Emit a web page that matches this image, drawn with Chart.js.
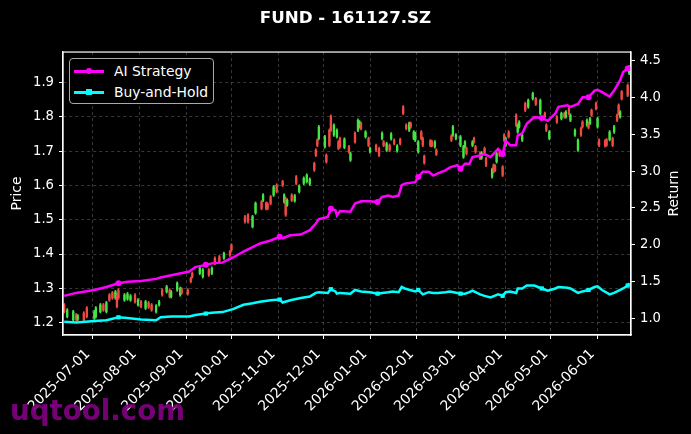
<!DOCTYPE html>
<html>
<head>
<meta charset="utf-8">
<script src="https://cdn.jsdelivr.net/npm/chart.js@4.4.7/dist/chart.umd.js"></script>
<style>
  html, body { margin: 0; padding: 0; background: #000; }
  #wrap { position: relative; width: 691px; height: 434px; }
  #legend {
    position: absolute; left: 69px; top: 58px; width: 145px; height: 46px;
    box-sizing: border-box; border: 1px solid #aaa; border-radius: 4px;
    background: #000; color: #fff; font: 13.9px "DejaVu Sans", sans-serif;
  }
  #legend .row { position: absolute; left: 0; width: 100%; height: 20px; line-height: 20px; }
  #legend .row span.txt { position: absolute; left: 44px; top: 0; white-space: nowrap; }
  #legend .sw { position: absolute; left: 4px; top: 9px; width: 30px; height: 2.5px; }
  #legend .sw i { position: absolute; left: 12px; top: -2px; width: 6px; height: 6px; }
  #watermark {
    position: absolute; left: 10px; top: 394px; line-height: 1;
    font: bold 27.7px "DejaVu Sans", sans-serif; color: rgba(128, 0, 128, 0.92);
  }
</style>
</head>
<body>
<div id="wrap">
  <canvas id="chart" width="691" height="434"></canvas>
  <div id="legend">
    <div class="row" style="top:2px"><span class="sw" style="background:#ff00ff"><i style="background:#ff00ff;border-radius:50%"></i></span><span class="txt">AI Strategy</span></div>
    <div class="row" style="top:23px"><span class="sw" style="background:#00ffff"><i style="background:#00ffff"></i></span><span class="txt">Buy-and-Hold</span></div>
  </div>
  <div id="watermark">uqtool.com</div>
</div>
<script>
// K线数据
const candleDates = [
  '2025-06-12','2025-06-14','2025-06-18','2025-06-20','2025-06-21','2025-06-25','2025-06-27',
  '2025-07-02','2025-07-03','2025-07-06','2025-07-08','2025-07-10','2025-07-12','2025-07-14','2025-07-16','2025-07-17','2025-07-18','2025-07-22','2025-07-24','2025-07-26','2025-07-29','2025-07-31',
  '2025-08-02','2025-08-05','2025-08-07','2025-08-09','2025-08-12','2025-08-14','2025-08-16','2025-08-19','2025-08-21','2025-08-22','2025-08-26','2025-08-28','2025-08-29',
  '2025-09-02','2025-09-04','2025-09-05','2025-09-10','2025-09-12','2025-09-16','2025-09-18','2025-09-20','2025-09-23','2025-09-26','2025-09-30',
  '2025-10-01','2025-10-10','2025-10-12','2025-10-15','2025-10-17','2025-10-21','2025-10-22','2025-10-24','2025-10-25','2025-10-27','2025-10-29','2025-10-31',
  '2025-11-04','2025-11-05','2025-11-06','2025-11-07','2025-11-10','2025-11-12','2025-11-13','2025-11-15','2025-11-18','2025-11-20','2025-11-22','2025-11-25','2025-11-26','2025-11-27','2025-11-28',
  '2025-12-02','2025-12-03','2025-12-05','2025-12-06','2025-12-08','2025-12-10','2025-12-11','2025-12-12','2025-12-15','2025-12-18','2025-12-19','2025-12-22','2025-12-24','2025-12-25','2025-12-26','2025-12-29','2025-12-31',
  '2026-01-01','2026-01-05','2026-01-07','2026-01-09','2026-01-10','2026-01-12','2026-01-14','2026-01-15','2026-01-17','2026-01-19','2026-01-21','2026-01-23','2026-01-25','2026-01-27','2026-01-28','2026-01-30','2026-01-31',
  '2026-02-02','2026-02-04','2026-02-05','2026-02-06','2026-02-10','2026-02-11','2026-02-13','2026-02-14','2026-02-24','2026-02-25','2026-02-27',
  '2026-03-02','2026-03-04','2026-03-05','2026-03-06','2026-03-10','2026-03-11','2026-03-12','2026-03-15','2026-03-16','2026-03-18','2026-03-19','2026-03-23','2026-03-24','2026-03-25','2026-03-26','2026-03-28','2026-03-30','2026-03-31',
  '2026-04-01','2026-04-03','2026-04-08','2026-04-09','2026-04-10','2026-04-12','2026-04-14','2026-04-16','2026-04-19','2026-04-21','2026-04-24','2026-04-27','2026-04-28','2026-04-30',
  '2026-05-05','2026-05-08','2026-05-10','2026-05-11','2026-05-13','2026-05-14','2026-05-17','2026-05-19','2026-05-21','2026-05-22','2026-05-25','2026-05-26','2026-05-27','2026-05-28','2026-05-31',
  '2026-06-01','2026-06-02','2026-06-06','2026-06-07','2026-06-09','2026-06-11','2026-06-12','2026-06-14','2026-06-15','2026-06-16','2026-06-17','2026-06-21','2026-06-22'
];
const opens = [
  1.252,1.218,1.208,1.223,1.210,1.228,1.243,1.213,1.218,1.232,
  1.252,1.232,1.281,1.287,1.272,1.281,1.295,1.266,1.269,1.266,
  1.281,1.252,1.261,1.242,1.258,1.252,1.232,1.252,1.295,1.290,
  1.295,1.276,1.295,1.281,1.298,1.295,1.329,1.344,1.344,1.334,
  1.354,1.344,1.388,1.392,1.388,1.407,1.426,1.509,1.514,1.480,
  1.520,1.552,1.557,1.548,1.546,1.567,1.572,1.601,1.611,1.552,
  1.562,1.543,1.572,1.555,1.625,1.582,1.606,1.611,1.604,1.664,
  1.703,1.732,1.737,1.713,1.688,1.761,1.802,1.747,1.742,1.727,
  1.737,1.711,1.713,1.674,1.752,1.761,1.771,1.781,1.742,1.737,
  1.698,1.717,1.708,1.737,1.727,1.703,1.717,1.736,1.732,1.701,
  1.734,1.829,1.776,1.761,1.781,1.737,1.732,1.698,1.756,1.737,
  1.685,1.730,1.728,1.713,1.703,1.744,1.747,1.737,1.717,1.683,
  1.713,1.708,1.717,1.737,1.713,1.693,1.680,1.708,1.679,1.625,
  1.659,1.657,1.669,1.698,1.654,1.747,1.717,1.756,1.805,1.756,
  1.771,1.732,1.839,1.829,1.853,1.853,1.810,1.810,1.776,1.737,
  1.800,1.795,1.810,1.800,1.824,1.790,1.747,1.703,1.766,1.785,
  1.776,1.781,1.781,1.819,1.839,1.771,1.732,1.730,1.733,1.734,
  1.737,1.756,1.805,1.834,1.800,1.873,1.892,1.927
];
const highs = [
  1.256,1.241,1.236,1.227,1.224,1.232,1.247,1.236,1.247,1.256,
  1.256,1.262,1.285,1.291,1.294,1.285,1.299,1.285,1.288,1.282,
  1.285,1.270,1.265,1.265,1.262,1.256,1.253,1.265,1.299,1.309,
  1.299,1.294,1.319,1.304,1.302,1.299,1.333,1.348,1.363,1.358,
  1.358,1.363,1.392,1.396,1.406,1.411,1.430,1.513,1.518,1.513,
  1.552,1.556,1.576,1.552,1.550,1.571,1.600,1.605,1.615,1.576,
  1.566,1.561,1.576,1.574,1.629,1.602,1.625,1.634,1.622,1.668,
  1.707,1.736,1.775,1.746,1.692,1.765,1.806,1.780,1.765,1.731,
  1.741,1.739,1.717,1.697,1.756,1.794,1.789,1.785,1.760,1.741,
  1.712,1.721,1.712,1.756,1.731,1.726,1.721,1.754,1.736,1.719,
  1.738,1.833,1.780,1.785,1.785,1.760,1.756,1.731,1.760,1.741,
  1.689,1.734,1.732,1.731,1.707,1.748,1.775,1.751,1.746,1.717,
  1.731,1.712,1.731,1.741,1.717,1.697,1.699,1.712,1.683,1.651,
  1.663,1.661,1.697,1.702,1.658,1.751,1.741,1.760,1.809,1.780,
  1.789,1.751,1.843,1.852,1.872,1.857,1.852,1.814,1.780,1.760,
  1.804,1.814,1.814,1.818,1.828,1.809,1.765,1.736,1.770,1.789,
  1.794,1.785,1.799,1.823,1.843,1.799,1.736,1.734,1.737,1.760,
  1.741,1.775,1.809,1.838,1.818,1.877,1.896,1.949
];
const lows = [
  1.228,1.214,1.204,1.204,1.206,1.204,1.214,1.209,1.214,1.228,
  1.233,1.228,1.262,1.268,1.268,1.243,1.268,1.262,1.265,1.262,
  1.257,1.248,1.243,1.238,1.241,1.233,1.228,1.248,1.277,1.286,
  1.272,1.272,1.291,1.277,1.283,1.280,1.316,1.330,1.340,1.330,
  1.335,1.340,1.369,1.374,1.384,1.393,1.408,1.490,1.490,1.476,
  1.516,1.529,1.553,1.529,1.529,1.544,1.568,1.578,1.597,1.548,
  1.510,1.539,1.553,1.551,1.602,1.578,1.602,1.607,1.600,1.641,
  1.684,1.713,1.733,1.709,1.665,1.713,1.757,1.743,1.738,1.704,
  1.709,1.707,1.694,1.670,1.723,1.757,1.767,1.762,1.738,1.713,
  1.694,1.699,1.684,1.733,1.713,1.699,1.699,1.732,1.718,1.697,
  1.718,1.806,1.762,1.757,1.767,1.733,1.728,1.694,1.733,1.713,
  1.662,1.713,1.712,1.709,1.687,1.728,1.743,1.733,1.713,1.679,
  1.709,1.689,1.713,1.723,1.694,1.675,1.676,1.689,1.655,1.621,
  1.636,1.640,1.665,1.684,1.626,1.728,1.713,1.738,1.772,1.752,
  1.767,1.728,1.815,1.825,1.849,1.833,1.806,1.796,1.757,1.733,
  1.781,1.791,1.796,1.796,1.806,1.786,1.743,1.699,1.743,1.767,
  1.772,1.765,1.777,1.801,1.820,1.767,1.713,1.712,1.714,1.730,
  1.713,1.752,1.786,1.806,1.796,1.849,1.859,1.923
];
const closes = [
  1.232,1.237,1.232,1.208,1.220,1.208,1.218,1.232,1.243,1.252,
  1.237,1.258,1.266,1.272,1.290,1.247,1.272,1.281,1.284,1.278,
  1.261,1.266,1.247,1.261,1.245,1.237,1.249,1.261,1.281,1.305,
  1.276,1.290,1.315,1.300,1.287,1.284,1.320,1.334,1.359,1.354,
  1.339,1.359,1.373,1.378,1.402,1.397,1.412,1.494,1.494,1.509,
  1.548,1.533,1.572,1.533,1.533,1.548,1.596,1.582,1.601,1.572,
  1.514,1.557,1.557,1.570,1.606,1.598,1.621,1.630,1.618,1.645,
  1.688,1.717,1.771,1.742,1.669,1.717,1.761,1.776,1.761,1.708,
  1.713,1.735,1.698,1.693,1.727,1.790,1.785,1.766,1.756,1.717,
  1.708,1.703,1.688,1.752,1.717,1.722,1.703,1.750,1.722,1.715,
  1.722,1.810,1.766,1.781,1.771,1.756,1.752,1.727,1.737,1.717,
  1.666,1.717,1.716,1.727,1.691,1.732,1.771,1.747,1.742,1.713,
  1.727,1.693,1.727,1.727,1.698,1.679,1.695,1.693,1.659,1.647,
  1.640,1.644,1.693,1.688,1.630,1.732,1.737,1.742,1.776,1.776,
  1.785,1.747,1.819,1.848,1.868,1.837,1.848,1.800,1.761,1.756,
  1.785,1.810,1.800,1.814,1.810,1.805,1.761,1.732,1.747,1.771,
  1.790,1.769,1.795,1.805,1.824,1.795,1.717,1.716,1.718,1.756,
  1.717,1.771,1.790,1.810,1.814,1.853,1.863,1.945
];

// 收益曲线
const lineDates = [
  '2025-06-12','2025-06-20','2025-07-02','2025-07-10','2025-07-18','2025-07-24','2025-08-02','2025-08-12','2025-08-15','2025-08-22',
  '2025-09-03','2025-09-07','2025-09-14','2025-09-18','2025-09-25','2025-10-02','2025-10-09','2025-10-15','2025-10-20','2025-10-27',
  '2025-11-02','2025-11-04','2025-11-09','2025-11-16','2025-11-22','2025-11-26','2025-11-28','2025-12-04','2025-12-06','2025-12-09',
  '2025-12-10','2025-12-12','2025-12-19','2025-12-22','2025-12-26','2026-01-01','2026-01-06','2026-01-09','2026-01-13','2026-01-16',
  '2026-01-20','2026-01-22','2026-01-24','2026-01-31','2026-02-02','2026-02-05','2026-02-09','2026-02-12','2026-02-15','2026-02-20',
  '2026-02-23','2026-02-28','2026-03-02','2026-03-05','2026-03-08','2026-03-10','2026-03-15','2026-03-18','2026-03-22','2026-03-27',
  '2026-03-30','2026-04-01','2026-04-04','2026-04-08','2026-04-09','2026-04-12','2026-04-15','2026-04-20','2026-04-25','2026-04-29',
  '2026-05-04','2026-05-06','2026-05-12','2026-05-14','2026-05-19','2026-05-22','2026-05-26','2026-05-30','2026-06-01','2026-06-04',
  '2026-06-09','2026-06-12','2026-06-16','2026-06-18','2026-06-21','2026-06-22'
];
const aiStrategy = [
  1.31,1.35,1.39,1.43,1.48,1.50,1.51,1.54,1.56,1.59,
  1.64,1.70,1.73,1.75,1.76,1.83,1.91,1.97,2.02,2.06,
  2.11,2.09,2.13,2.14,2.20,2.29,2.35,2.38,2.49,2.47,
  2.40,2.46,2.45,2.56,2.59,2.59,2.58,2.65,2.67,2.65,
  2.67,2.81,2.83,2.85,2.92,2.99,2.99,2.94,2.97,3.01,
  3.05,3.08,3.03,3.10,3.10,3.19,3.21,3.23,3.19,3.30,
  3.23,3.41,3.35,3.35,3.48,3.51,3.64,3.73,3.72,3.68,
  3.78,3.87,3.89,3.87,3.91,4.00,4.00,4.09,4.10,4.07,
  4.01,4.09,4.23,4.34,4.39,4.43
];
const buyHold = [
  0.96,0.95,0.97,0.98,1.02,1.01,0.99,0.98,1.02,1.03,
  1.03,1.05,1.07,1.08,1.09,1.13,1.19,1.21,1.23,1.25,
  1.26,1.22,1.25,1.28,1.30,1.35,1.36,1.35,1.40,1.37,
  1.34,1.35,1.34,1.39,1.37,1.36,1.34,1.35,1.36,1.37,
  1.36,1.43,1.41,1.37,1.39,1.33,1.36,1.35,1.35,1.36,
  1.37,1.35,1.34,1.34,1.36,1.38,1.33,1.31,1.29,1.33,
  1.31,1.36,1.37,1.35,1.41,1.41,1.45,1.45,1.41,1.38,
  1.41,1.43,1.42,1.41,1.35,1.37,1.39,1.43,1.44,1.39,
  1.33,1.35,1.39,1.41,1.45,1.48
];

// 刻度
const priceTicks = [1.2, 1.3, 1.4, 1.5, 1.6, 1.7, 1.8, 1.9];
const returnTicks = [1.0, 1.5, 2.0, 2.5, 3.0, 3.5, 4.0, 4.5];
const monthTicks = [
  '2025-07-01','2025-08-01','2025-09-01','2025-10-01','2025-11-01','2025-12-01',
  '2026-01-01','2026-02-01','2026-03-01','2026-04-01','2026-05-01','2026-06-01'
];

const ORIGIN = Date.parse('2025-07-01');
const toDay = (s) => (Date.parse(s) - ORIGIN) / 86400000;

const UP = '#44e444';
const DOWN = '#f04a44';
const FONT = 'DejaVu Sans';

const candleColors = candleDates.map((d, i) => (closes[i] >= opens[i] ? UP : DOWN));
const wickData = candleDates.map((d, i) => ({ x: toDay(d), y: [lows[i], highs[i]] }));
const bodyData = candleDates.map((d, i) => ({ x: toDay(d), y: [opens[i], closes[i]] }));
const aiData = lineDates.map((d, i) => ({ x: toDay(d), y: aiStrategy[i] }));
const bhData = lineDates.map((d, i) => ({ x: toDay(d), y: buyHold[i] }));

const monthLabel = {};
monthTicks.forEach((m) => { monthLabel[toDay(m)] = m; });

// 外框 + 右侧标题
const framePlugin = {
  id: 'frame',
  afterDraw(chart) {
    const { ctx, chartArea: a } = chart;
    ctx.save();
    ctx.strokeStyle = '#fff';
    ctx.lineWidth = 1.2;
    ctx.strokeRect(a.left, a.top, a.right - a.left, a.bottom - a.top);
    ctx.translate(674, (a.top + a.bottom) / 2);
    ctx.rotate(-Math.PI / 2);
    ctx.fillStyle = '#fff';
    ctx.font = '13.9px "DejaVu Sans"';
    ctx.textAlign = 'center';
    ctx.textBaseline = 'middle';
    ctx.fillText('Return', 0, 0);
    ctx.restore();
  }
};

const markerRadius = (ctx) => (ctx.index % 8 === 4 ? 3 : 0);

new Chart(document.getElementById('chart'), {
  type: 'bar',
  data: {
    datasets: [
      {
        type: 'line', label: 'AI Strategy', data: aiData, yAxisID: 'y2', order: 0,
        borderColor: '#ff00ff', backgroundColor: '#ff00ff', borderWidth: 2.5,
        pointStyle: 'circle', pointRadius: markerRadius, pointBorderWidth: 0, tension: 0
      },
      {
        type: 'line', label: 'Buy-and-Hold', data: bhData, yAxisID: 'y2', order: 0,
        borderColor: '#00ffff', backgroundColor: '#00ffff', borderWidth: 2.5,
        pointStyle: 'rect', pointRadius: markerRadius, pointBorderWidth: 0, tension: 0
      },
      {
        label: 'wick', data: wickData, yAxisID: 'y', order: 2, grouped: false,
        backgroundColor: candleColors, barThickness: 1, borderWidth: 0
      },
      {
        label: 'body', data: bodyData, yAxisID: 'y', order: 1, grouped: false,
        backgroundColor: candleColors, barThickness: 1.7, borderWidth: 0
      }
    ]
  },
  options: {
    responsive: false,
    animation: false,
    events: [],
    layout: { padding: 0 },
    plugins: {
      legend: { display: false },
      tooltip: { enabled: false },
      title: {
        display: true, text: 'FUND - 161127.SZ', color: '#fff',
        font: { family: FONT, size: 16.7, weight: 'bold' },
        padding: { top: 9, bottom: 23 }
      }
    },
    scales: {
      x: {
        type: 'linear',
        min: toDay(candleDates[0]) - 0.8,
        max: toDay(candleDates[candleDates.length - 1]) + 1.2,
        offset: false,
        afterFit: (s) => { s.height = 99; },
        afterBuildTicks: (s) => { s.ticks = monthTicks.map((m) => ({ value: toDay(m) })); },
        ticks: {
          color: '#fff', font: { family: FONT, size: 13.9 },
          minRotation: 45, maxRotation: 45, autoSkip: false, padding: 7, labelOffset: -5,
          callback: (v) => monthLabel[v] || ''
        },
        grid: {
          color: 'rgba(140,140,140,0.5)', lineWidth: 0.8, offset: false,
          tickColor: '#fff', tickLength: 4, tickWidth: 1
        },
        border: { color: '#fff', width: 1.2, dash: [3, 3] }
      },
      y: {
        position: 'left',
        min: 1.164, max: 1.989,
        afterFit: (s) => { s.width = 63; },
        afterBuildTicks: (s) => { s.ticks = priceTicks.map((v) => ({ value: v })); },
        ticks: {
          color: '#fff', font: { family: FONT, size: 13.2 }, padding: 5,
          callback: (v) => v.toFixed(1)
        },
        grid: {
          color: 'rgba(140,140,140,0.5)', lineWidth: 0.8,
          tickColor: '#fff', tickLength: 4, tickWidth: 1
        },
        border: { color: '#fff', width: 1.2, dash: [3, 3] },
        title: {
          display: true, text: 'Price', color: '#fff',
          font: { family: FONT, size: 13.9 }, padding: { top: 9, bottom: 9 }
        }
      },
      y2: {
        position: 'right',
        min: 0.78, max: 4.612,
        afterFit: (s) => { s.width = 60; },
        afterBuildTicks: (s) => { s.ticks = returnTicks.map((v) => ({ value: v })); },
        ticks: {
          color: '#fff', font: { family: FONT, size: 13.2 }, padding: 5,
          callback: (v) => v.toFixed(1)
        },
        grid: { drawOnChartArea: false, tickColor: '#fff', tickLength: 4, tickWidth: 1 },
        border: { color: '#fff', width: 1.2 }
      }
    }
  },
  plugins: [framePlugin]
});
</script>
</body>
</html>
